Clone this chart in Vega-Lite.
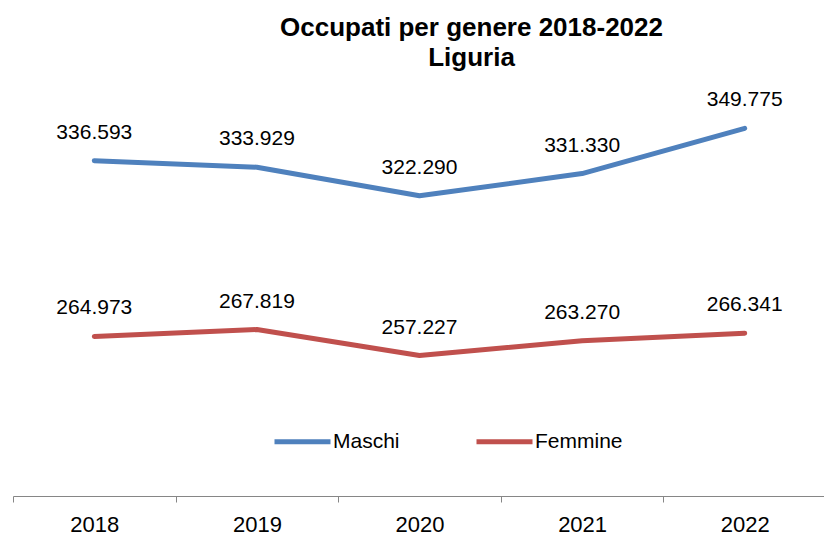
{
  "$schema": "https://vega.github.io/schema/vega-lite/v6.json",
  "width": 813,
  "height": 491,
  "padding": {"left": 12, "top": 5, "right": 0, "bottom": 0},
  "autosize": {"type": "pad"},
  "config": {
    "locale": {"number": {"decimal": ",", "thousands": ".", "grouping": [3], "currency": ["€", ""]}},
    "view": {"stroke": null},
    "font": "Liberation Sans"
  },
  "title": {
    "text": ["Occupati per genere 2018-2022", "Liguria"],
    "fontSize": 26,
    "fontWeight": "bold",
    "lineHeight": 30,
    "anchor": "middle",
    "dx": 52,
    "offset": -66,
    "color": "black",
    "font": "Liberation Sans"
  },
  "data": {
    "values": [
      {"anno": "2018", "genere": "Maschi", "occupati": 336593},
      {"anno": "2019", "genere": "Maschi", "occupati": 333929},
      {"anno": "2020", "genere": "Maschi", "occupati": 322290},
      {"anno": "2021", "genere": "Maschi", "occupati": 331330},
      {"anno": "2022", "genere": "Maschi", "occupati": 349775},
      {"anno": "2018", "genere": "Femmine", "occupati": 264973},
      {"anno": "2019", "genere": "Femmine", "occupati": 267819},
      {"anno": "2020", "genere": "Femmine", "occupati": 257227},
      {"anno": "2021", "genere": "Femmine", "occupati": 263270},
      {"anno": "2022", "genere": "Femmine", "occupati": 266341}
    ]
  },
  "encoding": {
    "x": {
      "field": "anno",
      "type": "ordinal",
      "scale": {"type": "band", "paddingInner": 0, "paddingOuter": 0},
      "axis": {
        "title": null,
        "labelAngle": 0,
        "tickBand": "extent",
        "tickSize": 6,
        "tickColor": "#868686",
        "domainColor": "#868686",
        "labelFontSize": 22,
        "labelColor": "black",
        "labelPadding": 12,
        "labelFont": "Liberation Sans",
        "grid": false
      }
    },
    "y": {
      "field": "occupati",
      "type": "quantitative",
      "scale": {"domain": [200000, 400000]},
      "axis": null
    }
  },
  "layer": [
    {
      "mark": {"type": "line", "strokeWidth": 5, "strokeCap": "round", "strokeJoin": "round"},
      "encoding": {
        "color": {
          "field": "genere",
          "type": "nominal",
          "scale": {"domain": ["Maschi", "Femmine"], "range": ["#4F81BD", "#C0504D"]},
          "legend": {
            "title": null,
            "orient": "none",
            "legendX": 259,
            "legendY": 406,
            "direction": "horizontal",
            "symbolType": "stroke",
            "symbolSize": 3136,
            "symbolStrokeWidth": 5,
            "labelFontSize": 21,
            "labelColor": "black",
            "labelFont": "Liberation Sans",
            "columnPadding": 66,
            "labelOffset": 0
          }
        }
      }
    },
    {
      "mark": {"type": "text", "dy": -22, "baseline": "alphabetic", "fontSize": 21, "color": "black", "font": "Liberation Sans"},
      "encoding": {
        "text": {"field": "occupati", "type": "quantitative", "format": ",d"},
        "detail": {"field": "genere"}
      }
    }
  ]
}
